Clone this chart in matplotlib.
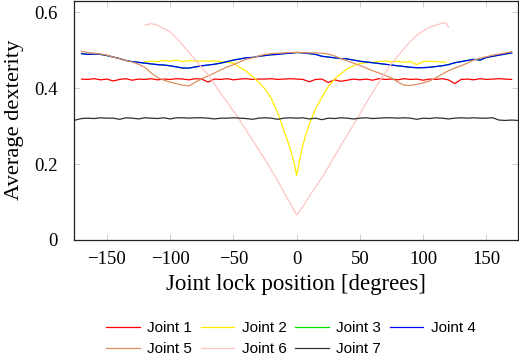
import numpy as np
import matplotlib
matplotlib.use("Agg")
import matplotlib.pyplot as plt

# ---------------- data ----------------
x_full = list(range(-170, 171, 5))
x_black = list(range(-175, 176, 5))

joint1 = [0.424, 0.423, 0.425, 0.422, 0.424, 0.419, 0.423, 0.425, 0.421, 0.424,
          0.423, 0.425, 0.422, 0.424, 0.423, 0.425, 0.424, 0.422, 0.425, 0.424,
          0.416, 0.424, 0.423, 0.425, 0.422, 0.424, 0.425, 0.423, 0.424, 0.424,
          0.425, 0.423, 0.424, 0.425, 0.424, 0.423, 0.417, 0.423, 0.424, 0.415,
          0.422, 0.418, 0.421, 0.424, 0.422, 0.424, 0.421, 0.425, 0.423, 0.424,
          0.422, 0.425, 0.423, 0.424, 0.421, 0.424, 0.423, 0.425, 0.422, 0.412,
          0.423, 0.424, 0.422, 0.425, 0.423, 0.424, 0.425, 0.424, 0.423]

joint4 = [0.491, 0.489, 0.490, 0.489, 0.486, 0.482, 0.478, 0.473, 0.470, 0.468,
          0.466, 0.464, 0.462, 0.461, 0.459, 0.456, 0.453, 0.453, 0.456, 0.459,
          0.461, 0.463, 0.466, 0.470, 0.474, 0.477, 0.480, 0.481, 0.484, 0.486,
          0.488, 0.489, 0.491, 0.492, 0.494, 0.493, 0.491, 0.489, 0.484, 0.482,
          0.480, 0.478, 0.477, 0.474, 0.471, 0.469, 0.467, 0.465, 0.463, 0.461,
          0.459, 0.457, 0.455, 0.454, 0.454, 0.455, 0.457, 0.459, 0.462, 0.467,
          0.470, 0.473, 0.476, 0.474, 0.481, 0.484, 0.487, 0.490, 0.493]

joint3 = list(joint4)  # hidden beneath Joint 4 in the reference

joint5 = [0.497, 0.494, 0.492, 0.490, 0.487, 0.482, 0.478, 0.473, 0.469, 0.463,
          0.455, 0.440, 0.428, 0.421, 0.416, 0.412, 0.408, 0.406, 0.416, 0.425,
          0.432, 0.440, 0.448, 0.456, 0.462, 0.469, 0.476, 0.480, 0.485, 0.489,
          0.491, 0.492, 0.493, 0.494, 0.494, 0.494, 0.493, 0.493, 0.492, 0.490,
          0.485, 0.478, 0.472, 0.466, 0.460, 0.453, 0.446, 0.440, 0.434, 0.427,
          0.416, 0.408, 0.407, 0.410, 0.414, 0.419, 0.427, 0.437, 0.446, 0.453,
          0.459, 0.466, 0.474, 0.479, 0.483, 0.487, 0.490, 0.493, 0.496]

joint7 = [0.316, 0.320, 0.321, 0.320, 0.322, 0.321, 0.321, 0.318, 0.322, 0.321,
          0.319, 0.322, 0.321, 0.320, 0.322, 0.319, 0.322, 0.322, 0.321, 0.322,
          0.322, 0.321, 0.319, 0.321, 0.321, 0.322, 0.321, 0.320, 0.318, 0.321,
          0.322, 0.321, 0.318, 0.321, 0.322, 0.321, 0.322, 0.319, 0.321, 0.317,
          0.321, 0.320, 0.322, 0.321, 0.319, 0.321, 0.322, 0.320, 0.321, 0.322,
          0.322, 0.321, 0.322, 0.321, 0.318, 0.321, 0.320, 0.322, 0.321, 0.319,
          0.321, 0.322, 0.321, 0.322, 0.321, 0.321, 0.322, 0.316, 0.315, 0.316,
          0.315]

x_yellow = [-120, -115, -110, -105, -100, -95, -90, -85, -80, -75, -70, -65, -60, -55,
            -50, -45, -40, -35, -30, -25, -20, -15, -10, -7, -4, -2, 0,
            2, 4, 7, 10, 15, 20, 25, 30, 35, 40, 45, 50,
            55, 60, 65, 70, 75, 80, 85, 90, 95, 100, 105, 110, 115, 118]
joint2 = [0.469, 0.471, 0.470, 0.473, 0.471, 0.474, 0.470, 0.473, 0.471, 0.472,
          0.471, 0.472, 0.470, 0.468,
          0.466, 0.455, 0.445, 0.431, 0.416, 0.398, 0.373, 0.335, 0.288, 0.260,
          0.228, 0.203, 0.170,
          0.205, 0.238, 0.275, 0.305, 0.346, 0.376, 0.404, 0.424, 0.438, 0.451,
          0.459, 0.465,
          0.467, 0.468, 0.470, 0.472, 0.469, 0.471, 0.468, 0.470, 0.462, 0.470,
          0.471, 0.470, 0.469, 0.468]

x_pink = [-120, -115, -110, -105, -100, -95, -90, -85, -80, -75, -70, -65, -60,
          -55, -50, -45, -40, -35, -30, -25, -20, -15, -10, -5, 0,
          5, 10, 15, 20, 25, 30, 35, 40, 45, 50, 55, 60, 65, 70, 75, 80, 85,
          90, 95, 100, 105, 110, 115, 118, 120]
joint6 = [0.566, 0.570, 0.566, 0.557, 0.548, 0.532, 0.513, 0.494, 0.474, 0.454,
          0.435, 0.411, 0.386, 0.364, 0.340, 0.316, 0.290, 0.264, 0.238, 0.212,
          0.184, 0.157, 0.125, 0.096, 0.066,
          0.088, 0.115, 0.140, 0.164, 0.192, 0.221, 0.249, 0.276, 0.304, 0.332,
          0.361, 0.389, 0.415, 0.441, 0.465, 0.485, 0.505, 0.523, 0.540, 0.551,
          0.560, 0.566, 0.571, 0.572, 0.561]

labels = ["Joint 1", "Joint 2", "Joint 3", "Joint 4", "Joint 5", "Joint 6", "Joint 7"]
colors = ["#ff0000", "#ffea00", "#00e000", "#0000ff", "#dc9060", "#ffc4c4", "#303030"]

xticks = [-150, -100, -50, 0, 50, 100, 150]
yticks = [0, 0.2, 0.4, 0.6]

# ---------------- figure ----------------
W, H = 519, 358
fig = plt.figure(figsize=(W / 100, H / 100), dpi=100)
ax = fig.add_axes([74 / W, (H - 240) / H, (518 - 74) / W, 239.5 / H])

series = [(x_full, joint1), (x_yellow, joint2), (x_full, joint3), (x_full, joint4),
          (x_full, joint5), (x_pink, joint6), (x_black, joint7)]
for (xs, ys), lab, c in zip(series, labels, colors):
    ax.plot(xs, ys, color=c, lw=0.9, label=lab)

ax.set_xlim(-176, 175)
ax.set_ylim(0, 0.631)
ax.set_xticks(xticks)
ax.set_yticks(yticks)
ax.set_yticklabels(["0", "0.2", "0.4", "0.6"])
ax.set_xticklabels(["\u2212150", "\u2212100", "\u221250", "0", "50", "100", "150"])

serif = "Liberation Serif"
for lab in ax.get_xticklabels() + ax.get_yticklabels():
    lab.set_fontfamily(serif)
    lab.set_fontsize(13.5)
ax.tick_params(direction="in", length=4, width=0.6, color="#c8c8c8",
               top=True, right=True)
ax.tick_params(axis="x", pad=8)
ax.tick_params(axis="y", pad=12)
for s in ax.spines.values():
    s.set_linewidth(0.9)
    s.set_color("#222222")

ax.set_xlabel("Joint lock position [degrees]", fontfamily=serif, fontsize=16.5, labelpad=4)
ax.set_ylabel("Average dexterity", fontfamily=serif, fontsize=16.2, labelpad=7)

handles, labs = ax.get_legend_handles_labels()
order = [0, 4, 1, 5, 2, 6, 3]
leg = fig.legend([handles[i] for i in order], [labs[i] for i in order],
                 loc="upper left", bbox_to_anchor=(106 / W, 1 - 321 / H),
                 ncol=4, frameon=False, prop={"family": "Liberation Sans", "size": 11},
                 handlelength=2.2, handletextpad=0.5, columnspacing=0.55,
                 labelspacing=0.45, borderpad=0, borderaxespad=0)

fig.savefig("out.png", dpi=100)
